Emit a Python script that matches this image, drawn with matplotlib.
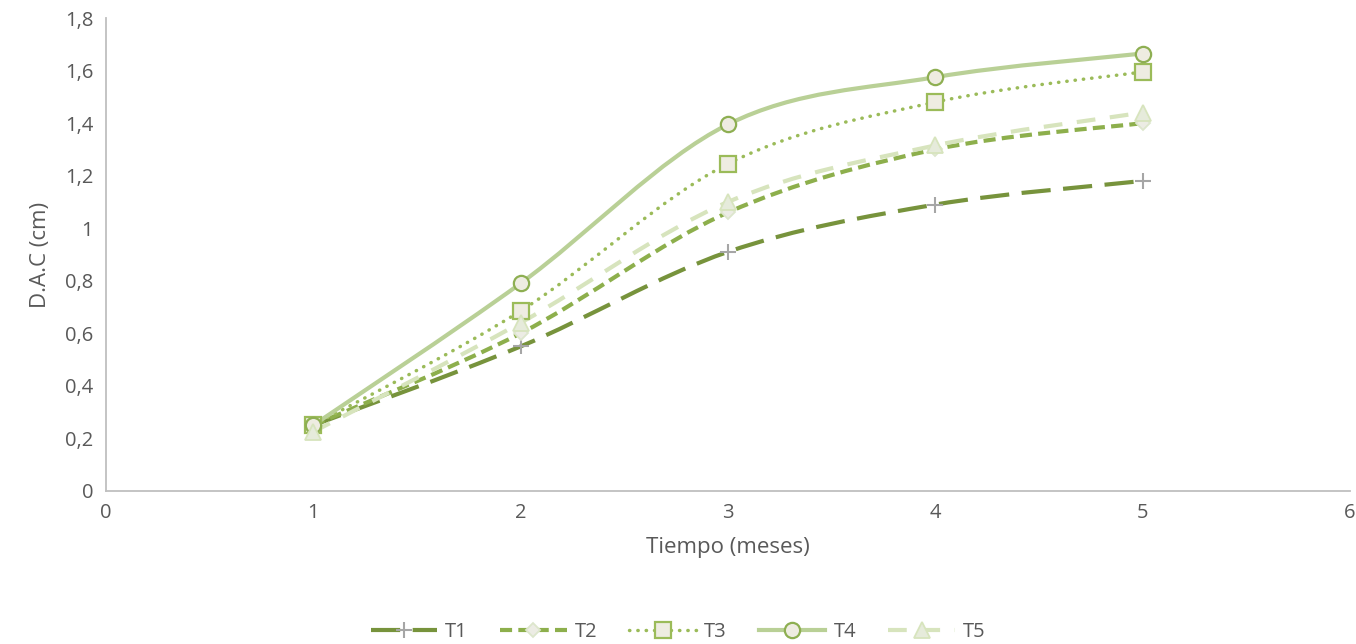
"""D.A.C over time, smoothed lines like the Excel chart."""

import numpy as np
import matplotlib
matplotlib.use("Agg")
import matplotlib.pyplot as plt
from matplotlib.path import Path
from matplotlib.patches import PathPatch
from matplotlib.lines import Line2D
from matplotlib.ticker import FuncFormatter, MultipleLocator

months = [1, 2, 3, 4, 5]
t1 = [0.25, 0.55, 0.91, 1.09, 1.18]
t2 = [0.25, 0.60, 1.06, 1.30, 1.40]
t3 = [0.25, 0.685, 1.245, 1.48, 1.595]
t4 = [0.25, 0.79, 1.395, 1.575, 1.665]
t5 = [0.225, 0.64, 1.10, 1.315, 1.44]
names = ["T1", "T2", "T3", "T4", "T5"]

plt.rcParams['font.family'] = ['Open Sans', 'DejaVu Sans']

def smooth_path(x, y):
    """Bezier path through the points (Catmull-Rom style, like Excel smoothing)."""
    p = np.column_stack([x, y]).astype(float)
    pts = np.vstack([p[0], p, p[-1]])
    verts = [p[0]]
    codes = [Path.MOVETO]
    for i in range(1, len(pts) - 2):
        c1 = pts[i] + (pts[i + 1] - pts[i - 1]) / 6
        c2 = pts[i + 1] - (pts[i + 2] - pts[i]) / 6
        verts += [c1, c2, pts[i + 1]]
        codes += [Path.CURVE4] * 3
    return Path(verts, codes)

styles = [
    dict(color='#77933C', lw=3.0, dashes=(7, 3), capstyle='butt',
         marker='+', mfc='#A6A6A6', mec='#A6A6A6', ms=11, mew=1.5),
    dict(color='#8DAF4C', lw=3.0, dashes=(2.9, 1.5), capstyle='butt',
         marker='D', mfc='#ECECE4', mec='#DDE6CC', ms=7, mew=1.3),
    dict(color='#9BBB59', lw=2.5, dashes=(0.1, 2.3), capstyle='round',
         marker='s', mfc='#EEECE1', mec='#9BBB59', ms=11, mew=1.6),
    dict(color='#B9D096', lw=3.0, dashes=None, capstyle='butt',
         marker='o', mfc='#EEECE1', mec='#8EAF52', ms=11, mew=1.6),
    dict(color='#D7E4BD', lw=3.0, dashes=(4.5, 3.5), capstyle='butt',
         marker='^', mfc='#E6EBDB', mec='#D7E4BD', ms=11, mew=1.3),
]

fig = plt.figure(figsize=(13.56, 6.44), dpi=100)
ax = fig.add_axes([0.078, 0.2376, 0.9176, 0.7344])

handles = []
for ys, name, st in zip([t1, t2, t3, t4, t5], names, styles):
    ls = (0, st['dashes']) if st['dashes'] else '-'
    patch = PathPatch(smooth_path(months, ys), fill=False, edgecolor=st['color'],
                      lw=st['lw'], linestyle=ls, capstyle=st['capstyle'], zorder=2)
    ax.add_patch(patch)
    ax.plot(months, ys, linestyle='none', marker=st['marker'], mfc=st['mfc'],
            mec=st['mec'], ms=st['ms'], mew=st['mew'], zorder=3)
    h = Line2D([], [], color=st['color'], lw=st['lw'], linestyle=ls,
               dash_capstyle=st['capstyle'], marker=st['marker'], mfc=st['mfc'],
               mec=st['mec'], ms=st['ms'], mew=st['mew'])
    handles.append(h)

ax.set_xlim(0, 6)
ax.set_ylim(0, 1.8)
ax.xaxis.set_major_locator(MultipleLocator(1))
ax.yaxis.set_major_locator(MultipleLocator(0.2))
fmt = FuncFormatter(lambda v, pos: f"{v:.1f}".rstrip('0').rstrip('.').replace('.', ','))
ax.yaxis.set_major_formatter(fmt)
ax.xaxis.set_major_formatter(FuncFormatter(lambda v, pos: f"{v:g}"))

for s in ['top', 'right']:
    ax.spines[s].set_visible(False)
for s in ['left', 'bottom']:
    ax.spines[s].set_color('#BFBFBF')
    ax.spines[s].set_linewidth(1.3)
ax.tick_params(length=0, labelsize=14.5, colors='#595959', pad=9)

ax.set_xlabel('Tiempo (meses)', fontsize=16, color='#595959', labelpad=10)
ax.set_ylabel('D.A.C (cm)', fontsize=16, color='#595959', labelpad=10)

fig.legend(handles=handles, labels=names, loc='lower center',
           bbox_to_anchor=(0.5, -0.025), ncol=5, frameon=False, fontsize=14.5,
           handlelength=3.3, columnspacing=1.6, handletextpad=0.4,
           labelcolor='#595959')

fig.savefig('out.png', dpi=100)
